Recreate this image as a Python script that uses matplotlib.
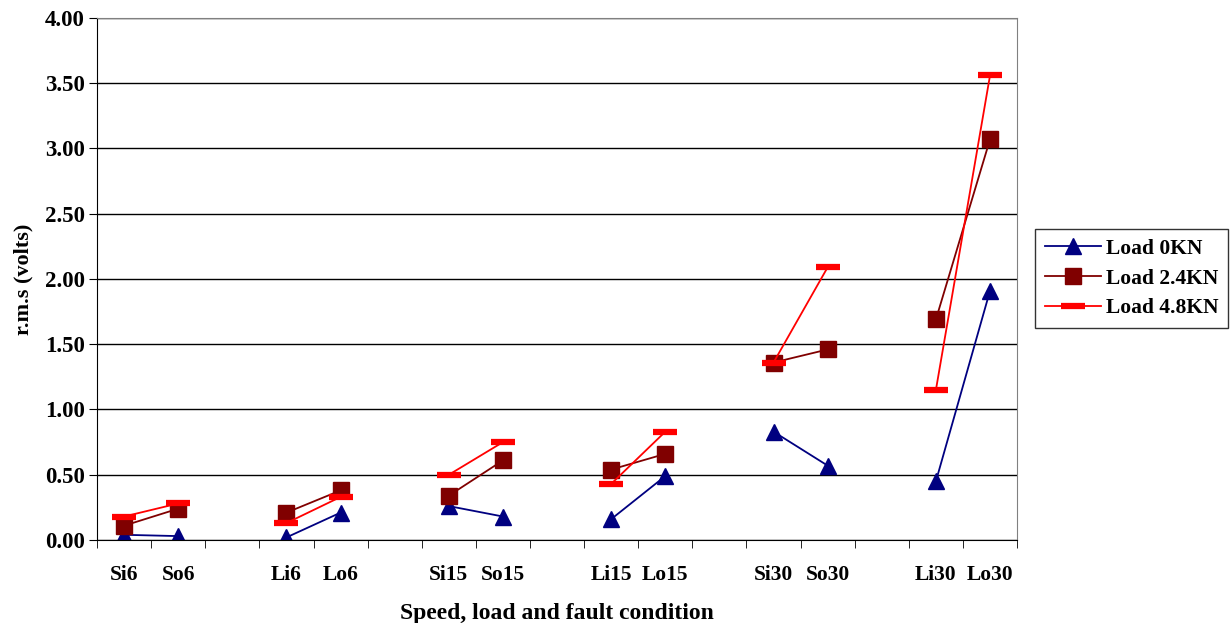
import numpy as np
import matplotlib.pyplot as plt

plt.rcParams['font.family'] = ['Liberation Serif', 'DejaVu Serif']
plt.rcParams['font.weight'] = 'bold'

# categories, blank slots separate the pairs
cats = ["Si6", "So6", "", "Li6", "Lo6", "", "Si15", "So15", "", "Li15", "Lo15", "",
        "Si30", "So30", "", "Li30", "Lo30"]

nan = np.nan
load0 = [0.04, 0.03, nan, 0.02, 0.21, nan, 0.26, 0.18, nan, 0.16, 0.49, nan,
         0.83, 0.57, nan, 0.45, 1.91]
load24 = [0.11, 0.24, nan, 0.21, 0.38, nan, 0.34, 0.61, nan, 0.54, 0.66, nan,
          1.36, 1.46, nan, 1.69, 3.07]
load48 = [0.18, 0.28, nan, 0.13, 0.33, nan, 0.50, 0.75, nan, 0.43, 0.83, nan,
          1.36, 2.09, nan, 1.15, 3.56]

x = np.arange(len(cats))

fig = plt.figure(figsize=(12.3, 6.23), dpi=100)
ax = fig.add_axes([0.0789, 0.1332, 0.748, 0.838])

ax.plot(x, load0, color='#000080', lw=1.3, marker='^', ms=12, label='Load 0KN')
ax.plot(x, load24, color='#800000', lw=1.3, marker='s', ms=11, label='Load 2.4KN')
ax.plot(x, load48, color='#ff0000', lw=1.3, marker='_', ms=17, mew=4.5, label='Load 4.8KN')

ax.set_xlim(-0.5, len(cats) - 0.5)
ax.set_ylim(0, 4)
ax.set_yticks(np.arange(0, 4.01, 0.5))
ax.set_yticklabels(['%.2f' % v for v in np.arange(0, 4.01, 0.5)], fontsize=16.5)
ax.yaxis.grid(True, color='black', lw=1)
ax.set_axisbelow(True)

# labels at category centres, tick marks at the boundaries
ax.set_xticks(x)
ax.set_xticklabels(cats, fontsize=15.5)
ax.tick_params(axis='x', which='major', length=0, pad=18)
ax.set_xticks(np.arange(-0.5, len(cats)), minor=True)
ax.tick_params(axis='x', which='minor', length=6, direction='out', color='black')
ax.tick_params(axis='y', length=6, direction='out', pad=3)

ax.spines['top'].set_color('gray')
ax.spines['right'].set_color('gray')

ax.set_xlabel('Speed, load and fault condition', fontsize=17, fontweight='bold', labelpad=13)
ax.set_ylabel('r.m.s (volts)', fontsize=16, fontweight='bold', labelpad=8)

leg = ax.legend(loc='center left', bbox_to_anchor=(0.8415, 0.553), bbox_transform=fig.transFigure,
                borderaxespad=0, fontsize=15.5, frameon=True, fancybox=False, edgecolor='black',
                handlelength=2.6, handletextpad=0.25, labelspacing=0.45, borderpad=0.45)
leg.get_frame().set_linewidth(1)

fig.savefig('out.png', dpi=100)
